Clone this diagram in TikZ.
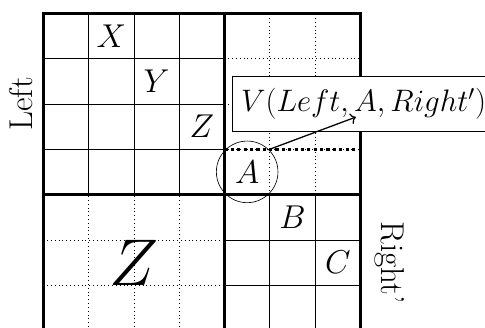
\documentclass[tikz,border=0pt]{standalone}
\usetikzlibrary{arrows.meta,positioning}
\begin{document}
\begin{tikzpicture}[
  cell/.style={font=\huge},
  blockline/.style={line width=1.6pt},
]
\useasboundingbox (-0.956,0.075) rectangle (9.75,7.294);
% solid and dotted grids
\draw (0,3) grid (4,7);
\draw (4,0) grid (7,3);
\draw[dotted] (4,3) grid (7,7);
\draw[dotted] (0,0) grid (4,3);
% block borders
\draw[blockline] (0,0) rectangle (7,7);
\draw[blockline] (4,0) -- (4,7);
\draw[blockline] (0,3) -- (7,3);
\coordinate (dotstart) at (4,4);
\coordinate (dotend) at (6.9,4);
\draw[line width=2pt,dash pattern=on 2pt off 2pt] (dotstart) -- (dotend);
% cell letters
\node[cell] (x) at (1.5,6.5) {$X$};
\node[cell] (y) at (2.5,5.5) {$Y$};
\node[cell] (z) at (3.5,4.5) {$Z$};
\node[cell,circle,draw,minimum size=1.36cm,inner sep=0pt] (a) at (4.5,3.5) {$A$};
\node[cell] (b) at (5.5,2.5) {$B$};
\node[cell] (c) at (6.5,1.5) {$C$};
\node[cell,scale=2] (zbig) at (2,1.5) {$Z$};
% side labels
\node[rotate=90,font=\huge] (left) at (-0.5,5) {Left};
\node[rotate=-90,font=\huge] (right) at (7.65,1.5) {Right'};
% value label
\node[draw,fill=white,font=\huge,scale=0.94,anchor=west,inner xsep=6pt,inner ysep=8pt] (vlabel) at (4.16,5) {$V(Left,A,Right')$};
\coordinate (from) at (5,4);
\coordinate (tip) at (6.9,4.71);
\draw[thick,->] (from) -- (tip);
\end{tikzpicture}
\end{document}
